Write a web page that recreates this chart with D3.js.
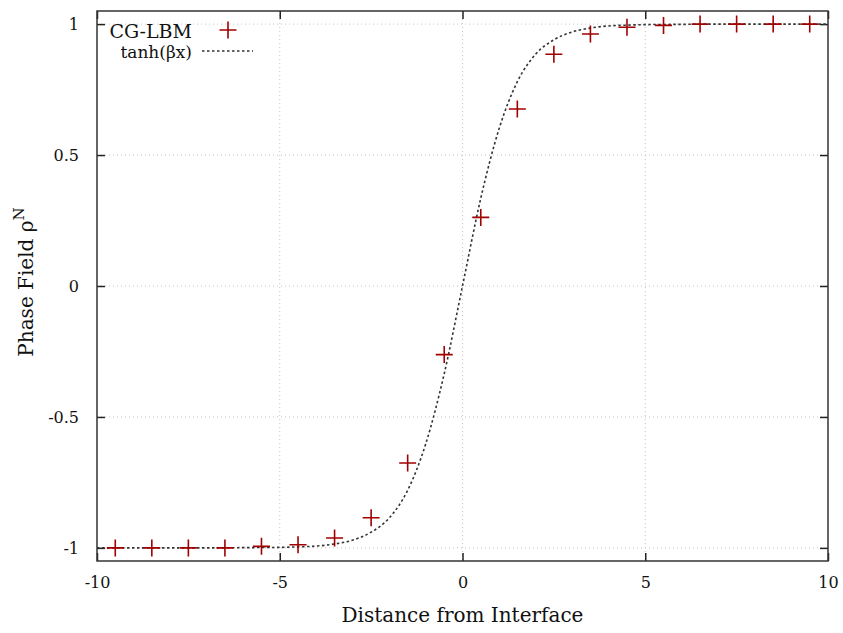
<!DOCTYPE html>
<html>
<head>
<meta charset="utf-8">
<script src="https://cdn.jsdelivr.net/npm/d3@7/dist/d3.min.js"></script>
<style>
  html, body { margin: 0; padding: 0; background: #fff; }
  svg { display: block; }
  text { font-family: "DejaVu Serif", "Liberation Serif", serif; fill: #111; }
</style>
</head>
<body>
<svg id="chart" width="843" height="633"></svg>
<script>
// ---- data ----
const pointX = [-9.5, -8.5, -7.5, -6.5, -5.5, -4.5, -3.5, -2.5, -1.5, -0.5,
                 0.5, 1.5, 2.5, 3.5, 4.5, 5.5, 6.5, 7.5, 8.5, 9.5];
const pointY = [-1, -1, -1, -1, -0.994, -0.988, -0.962, -0.885, -0.676, -0.262,
                 0.262, 0.676, 0.885, 0.962, 0.988, 0.995, 1, 1, 1, 1];

// dotted reference curve tanh(beta x)
const curveX = [-10, -9, -8, -7, -6, -5, -4.5, -4, -3.5, -3, -2.5, -2, -1.5, -1, -0.5, 0,
                 0.5, 1, 1.5, 2, 2.5, 3, 3.5, 4, 4.5, 5, 6, 7, 8, 9, 10];
const curveY = [-1, -1, -1, -1, -0.999, -0.998, -0.996, -0.993, -0.985, -0.97, -0.94, -0.885, -0.78, -0.6, -0.335, 0,
                 0.335, 0.6, 0.78, 0.885, 0.94, 0.97, 0.985, 0.993, 0.996, 0.998, 0.999, 1, 1, 1, 1];

const xTicks = [-10, -5, 0, 5, 10];
const yTicks = [-1, -0.5, 0, 0.5, 1];
const xDomain = [-10, 10];
const yDomain = [-1.05, 1.05];

const legendLabels = ["CG-LBM", "tanh(\u03B2x)"];
const xLabel = "Distance from Interface";
const yLabel = "Phase Field \u03C1";
const yLabelSup = "N";

// ---- layout ----
const svg = d3.select("#chart");
const L = 97, R = 828, T = 11, B = 561;
const x = d3.scaleLinear().domain(xDomain).range([L, R]);
const y = d3.scaleLinear().domain(yDomain).range([B, T]);

const red = "#a00000";

// grid
const grid = svg.append("g");
grid.selectAll("line.gx").data(xTicks.filter(d => d > xDomain[0] && d < xDomain[1]))
  .join("line").attr("x1", d => x(d)).attr("x2", d => x(d)).attr("y1", T).attr("y2", B)
  .attr("stroke", "#c4c4c4").attr("stroke-width", 1).attr("stroke-dasharray", "1,3");
grid.selectAll("line.gy").data(yTicks)
  .join("line").attr("x1", L).attr("x2", R).attr("y1", d => y(d)).attr("y2", d => y(d))
  .attr("stroke", "#c4c4c4").attr("stroke-width", 1).attr("stroke-dasharray", "1,3");

// axes (ticks inward, mirrored)
const tickLen = 8;
const fmt = d => String(d);
const axB = svg.append("g").attr("transform", `translate(0,${B})`)
  .call(d3.axisBottom(x).tickValues(xTicks).tickSize(-tickLen).tickPadding(16).tickFormat(fmt));
const axT = svg.append("g").attr("transform", `translate(0,${T})`)
  .call(d3.axisTop(x).tickValues(xTicks).tickSize(-tickLen).tickFormat(""));
const axL = svg.append("g").attr("transform", `translate(${L},0)`)
  .call(d3.axisLeft(y).tickValues(yTicks).tickSize(-tickLen).tickPadding(18).tickFormat(fmt));
const axR = svg.append("g").attr("transform", `translate(${R},0)`)
  .call(d3.axisRight(y).tickValues(yTicks).tickSize(-tickLen).tickFormat(""));
[axB, axT, axL, axR].forEach(a => {
  a.select(".domain").remove();
  a.selectAll(".tick line").attr("stroke", "#222").attr("stroke-width", 1.5);
  a.selectAll(".tick text").attr("font-family", "DejaVu Serif, serif").attr("font-size", 16).attr("fill", "#111");
});

// frame
svg.append("rect").attr("x", L).attr("y", T).attr("width", R - L).attr("height", B - T)
  .attr("fill", "none").attr("stroke", "#333").attr("stroke-width", 1.5);

// curve
const curveData = curveX.map((d, i) => [d, curveY[i]]);
svg.append("path").datum(curveData)
  .attr("d", d3.line().x(d => x(d[0])).y(d => y(d[1])).curve(d3.curveMonotoneX))
  .attr("fill", "none").attr("stroke", "#333").attr("stroke-width", 1.6)
  .attr("stroke-dasharray", "2.5,2.5");

// markers
const s = 8.5;
const plusPath = `M${-s},0H${s}M0,${-s}V${s}`;
svg.append("g").selectAll("path").data(pointX.map((d, i) => [d, pointY[i]]))
  .join("path")
  .attr("transform", d => `translate(${x(d[0])},${y(d[1])})`)
  .attr("d", plusPath).attr("stroke", red).attr("stroke-width", 1.6).attr("fill", "none");

// legend
const lg = svg.append("g");
lg.append("text").attr("x", 192).attr("y", 38).attr("text-anchor", "end")
  .attr("font-size", 19).text(legendLabels[0]);
lg.append("path").attr("transform", `translate(228,30)`).attr("d", plusPath)
  .attr("stroke", red).attr("stroke-width", 1.6).attr("fill", "none");
lg.append("text").attr("x", 192).attr("y", 58).attr("text-anchor", "end")
  .attr("font-size", 17).text(legendLabels[1]);
lg.append("line").attr("x1", 202).attr("x2", 253).attr("y1", 51).attr("y2", 51)
  .attr("stroke", "#333").attr("stroke-width", 1.6).attr("stroke-dasharray", "2.5,2.5");

// axis labels
svg.append("text").attr("x", (L + R) / 2).attr("y", 622).attr("text-anchor", "middle")
  .attr("font-size", 20).text(xLabel);
const yl = svg.append("text").attr("transform", `translate(33,${(T + B) / 2 - 4}) rotate(-90)`)
  .attr("text-anchor", "middle").attr("font-size", 20);
yl.append("tspan").text(yLabel);
yl.append("tspan").attr("dy", -9).attr("font-size", 15).text(yLabelSup);
</script>
</body>
</html>
